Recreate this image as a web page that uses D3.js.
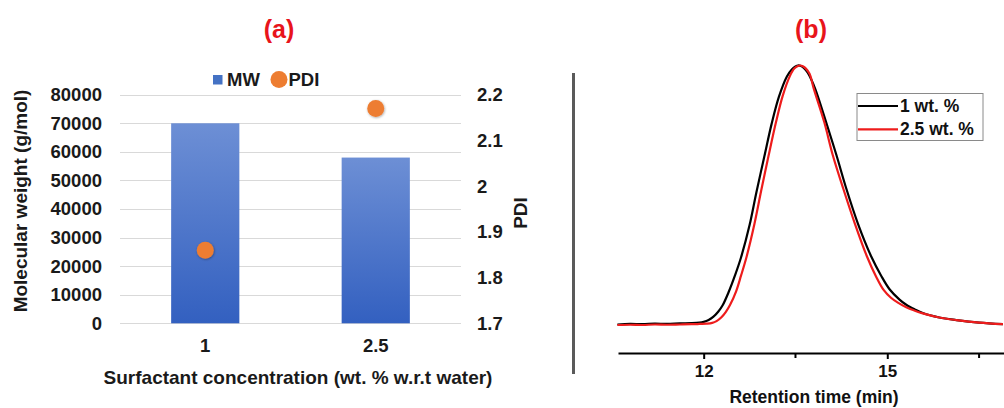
<!DOCTYPE html>
<html>
<head>
<meta charset="utf-8">
<script src="https://cdn.jsdelivr.net/npm/d3@7"></script>
<style>
  html, body { margin: 0; padding: 0; background: #fff; }
  svg { display: block; font-family: "Liberation Sans", Arial, sans-serif; font-weight: bold; }
</style>
</head>
<body>
<svg id="chart" width="1004" height="408"></svg>
<script>
// ---- Panel (a): molecular weight bars and PDI points ----
const concentrations = ["1", "2.5"];
const molecularWeight = [70000, 58000];
const pdi = [1.86, 2.17];
const mwTicks = [0, 10000, 20000, 30000, 40000, 50000, 60000, 70000, 80000];
const pdiTicks = [1.7, 1.8, 1.9, 2.0, 2.1, 2.2];

// ---- Panel (b): GPC traces (retention time in min, normalised signal) ----
const wt1Time = [10.59, 10.8, 11.0, 11.2, 11.4, 11.61, 11.8, 11.93, 12.0, 12.08, 12.16, 12.24, 12.31, 12.41,
  12.51, 12.61, 12.75, 12.86, 12.99, 13.11, 13.23, 13.36, 13.44, 13.50, 13.54, 13.59, 13.64, 13.70, 13.76,
  13.83, 14.0, 14.17, 14.33, 14.52, 14.74, 14.90, 15.04, 15.2, 15.31, 15.45, 15.58, 15.85, 16.13, 16.5, 16.89];
const wt1Signal = [0.002, 0.004, 0.003, 0.005, 0.004, 0.006, 0.007, 0.009, 0.012, 0.019, 0.032, 0.052, 0.076, 0.128,
  0.190, 0.260, 0.385, 0.510, 0.648, 0.775, 0.880, 0.958, 0.985, 0.996, 1.0, 0.998, 0.990, 0.972, 0.945,
  0.905, 0.782, 0.654, 0.526, 0.391, 0.263, 0.190, 0.137, 0.098, 0.078, 0.060, 0.046, 0.029, 0.019, 0.009, 0.003];
const wt25Time = [10.59, 10.8, 11.0, 11.2, 11.4, 11.61, 11.8, 11.93, 12.05, 12.14, 12.21, 12.29, 12.36, 12.43,
  12.53, 12.61, 12.70, 12.83, 12.94, 13.06, 13.18, 13.29, 13.41, 13.48, 13.54, 13.58, 13.62, 13.67, 13.73,
  13.80, 13.97, 14.11, 14.28, 14.47, 14.67, 14.82, 14.94, 15.06, 15.18, 15.31, 15.45, 15.58, 15.85, 16.13, 16.5, 16.89];
const wt25Signal = [0.0, 0.001, 0.0, 0.002, 0.001, 0.002, 0.003, 0.004, 0.005, 0.008, 0.015, 0.030, 0.050, 0.077,
  0.130, 0.190, 0.262, 0.390, 0.518, 0.652, 0.780, 0.882, 0.960, 0.988, 0.998, 1.0, 0.997, 0.988, 0.968,
  0.910, 0.782, 0.654, 0.526, 0.391, 0.263, 0.185, 0.135, 0.105, 0.085, 0.068, 0.055, 0.045, 0.029, 0.019, 0.009, 0.003];
const timeTicks = [12, 15];
const minorTimeTicks = [13.5, 16.5];
const traceLabels = ["1 wt. %", "2.5 wt. %"];
const traceColors = ["#000000", "#ee1c1c"];

const svg = d3.select("#chart");
const defs = svg.append("defs");
const grad = defs.append("linearGradient").attr("id", "barFill")
  .attr("x1", 0).attr("y1", 0).attr("x2", 0).attr("y2", 1);
grad.append("stop").attr("offset", "0%").attr("stop-color", "#6d8fd5");
grad.append("stop").attr("offset", "100%").attr("stop-color", "#3360c0");

const shadow = defs.append("filter").attr("id", "dotShadow")
  .attr("x", "-50%").attr("y", "-50%").attr("width", "200%").attr("height", "200%");
shadow.append("feDropShadow").attr("dx", 0.6).attr("dy", 0.8).attr("stdDeviation", 0.8)
  .attr("flood-color", "#000").attr("flood-opacity", 0.35);

// ===== Panel (a) =====
const a = svg.append("g");
const xA = d3.scaleBand().domain(concentrations).range([120, 461]).paddingInner(0.6).paddingOuter(0.3);
const yMW = d3.scaleLinear().domain([0, 80000]).range([323.3, 94.7]);
const yPDI = d3.scaleLinear().domain([1.7, 2.2]).range([323.3, 94.7]);

a.append("text").attr("x", 279).attr("y", 38).attr("text-anchor", "middle")
  .attr("font-size", 25).attr("fill", "#e8141b").text("(a)");

// horizontal gridlines
a.append("g").selectAll("line").data(mwTicks).join("line")
  .attr("x1", 120).attr("x2", 461)
  .attr("y1", d => Math.round(yMW(d)) + 0.5).attr("y2", d => Math.round(yMW(d)) + 0.5)
  .attr("stroke", "#d9d9d9").attr("stroke-width", 1);

// left axis
const leftAxis = d3.axisLeft(yMW).tickValues(mwTicks).tickSize(0).tickPadding(0).tickFormat(d3.format("d"));
const gL = a.append("g").attr("transform", "translate(102,0)").call(leftAxis);
gL.select(".domain").remove();
gL.selectAll("text").attr("font-size", 18.5).attr("fill", "#1a1a1a").attr("font-family", null);

// right axis
const rightAxis = d3.axisRight(yPDI).tickValues(pdiTicks).tickSize(0).tickPadding(0)
  .tickFormat(d => d3.format("")(+d.toFixed(1)));
const gR = a.append("g").attr("transform", "translate(477,0)").call(rightAxis);
gR.select(".domain").remove();
gR.selectAll("text").attr("font-size", 18.5).attr("fill", "#1a1a1a").attr("font-family", null);

// bars
a.append("g").selectAll("rect").data(molecularWeight).join("rect")
  .attr("x", (d, i) => xA(concentrations[i]))
  .attr("width", xA.bandwidth())
  .attr("y", d => yMW(d))
  .attr("height", d => yMW(0) - yMW(d))
  .attr("fill", "url(#barFill)");

// PDI points
a.append("g").selectAll("circle").data(pdi).join("circle")
  .attr("cx", (d, i) => xA(concentrations[i]) + xA.bandwidth() / 2)
  .attr("cy", d => yPDI(d))
  .attr("r", 8.5)
  .attr("fill", "#ed7d31")
  .attr("filter", "url(#dotShadow)");

// x tick labels
const bottomAxis = d3.axisBottom(xA).tickSize(0).tickPadding(0);
const gB = a.append("g").attr("transform", "translate(0,339)").call(bottomAxis);
gB.select(".domain").remove();
gB.selectAll("text").attr("font-size", 18.5).attr("fill", "#1a1a1a").attr("font-family", null);

// axis titles
a.append("text").attr("x", 298).attr("y", 384).attr("text-anchor", "middle")
  .attr("font-size", 19).attr("fill", "#1a1a1a").text("Surfactant concentration (wt. % w.r.t water)");
a.append("text").attr("transform", "translate(27,201) rotate(-90)").attr("text-anchor", "middle")
  .attr("font-size", 19).attr("fill", "#1a1a1a").text("Molecular weight (g/mol)");
a.append("text").attr("transform", "translate(527,213) rotate(-90)").attr("text-anchor", "middle")
  .attr("font-size", 19).attr("fill", "#1a1a1a").text("PDI");

// legend
const legA = a.append("g");
legA.append("rect").attr("x", 213).attr("y", 75).attr("width", 9.5).attr("height", 9.5).attr("fill", "#4472c4");
legA.append("text").attr("x", 227).attr("y", 86).attr("font-size", 18.5).attr("fill", "#1a1a1a").text("MW");
legA.append("circle").attr("cx", 279).attr("cy", 79.5).attr("r", 8.5).attr("fill", "#ed7d31");
legA.append("text").attr("x", 288.5).attr("y", 86).attr("font-size", 18.5).attr("fill", "#1a1a1a").text("PDI");

// divider between panels
svg.append("line").attr("x1", 573.5).attr("x2", 573.5).attr("y1", 73).attr("y2", 374)
  .attr("stroke", "#5a5a5a").attr("stroke-width", 3);

// ===== Panel (b) =====
const b = svg.append("g");
const xB = d3.scaleLinear().domain([10.6, 17.0]).range([618, 618 + 6.4 * 61.2]);
const yB = d3.scaleLinear().domain([0, 1]).range([325, 65.5]);

b.append("text").attr("x", 811).attr("y", 38).attr("text-anchor", "middle")
  .attr("font-size", 25).attr("fill", "#e8141b").text("(b)");

const line = d3.line().x(d => xB(d[0])).y(d => yB(d[1])).curve(d3.curveCatmullRom.alpha(0.5));
const traces = [
  d3.zip(wt1Time, wt1Signal),
  d3.zip(wt25Time, wt25Signal)
];
b.append("g").selectAll("path").data(traces).join("path")
  .attr("d", line)
  .attr("fill", "none")
  .attr("stroke", (d, i) => traceColors[i])
  .attr("stroke-width", 2.2)
  .attr("stroke-linejoin", "round");

// bottom axis with major labelled and minor ticks
const axisB = d3.axisBottom(xB).tickValues(timeTicks).tickSize(6).tickPadding(6).tickSizeOuter(0)
  .tickFormat(d3.format("d"));
const gXB = b.append("g").attr("transform", "translate(0,353)").call(axisB);
gXB.select(".domain").attr("stroke", "#000").attr("stroke-width", 2.2);
gXB.selectAll(".tick line").attr("stroke", "#000").attr("stroke-width", 2);
gXB.selectAll("text").attr("font-size", 17).attr("fill", "#111").attr("font-family", null);
gXB.append("g").selectAll("line").data(minorTimeTicks).join("line")
  .attr("x1", d => xB(d)).attr("x2", d => xB(d)).attr("y1", 0).attr("y2", 5)
  .attr("stroke", "#000").attr("stroke-width", 2);

b.append("text").attr("x", 814).attr("y", 403).attr("text-anchor", "middle")
  .attr("font-size", 17.5).attr("fill", "#111").text("Retention time (min)");

// legend box
const legB = b.append("g");
legB.append("rect").attr("x", 857).attr("y", 93.5).attr("width", 126).attr("height", 47)
  .attr("fill", "#fff").attr("stroke", "#8a8a8a").attr("stroke-width", 1);
legB.selectAll("line.key").data(traceLabels).join("line").attr("class", "key")
  .attr("x1", 858).attr("x2", 898)
  .attr("y1", (d, i) => 106 + i * 23.3).attr("y2", (d, i) => 106 + i * 23.3)
  .attr("stroke", (d, i) => traceColors[i]).attr("stroke-width", 2.2);
legB.selectAll("text").data(traceLabels).join("text")
  .attr("x", 900).attr("y", (d, i) => 112 + i * 23.3)
  .attr("font-size", 17.5).attr("fill", "#111").text(d => d);
</script>
</body>
</html>
